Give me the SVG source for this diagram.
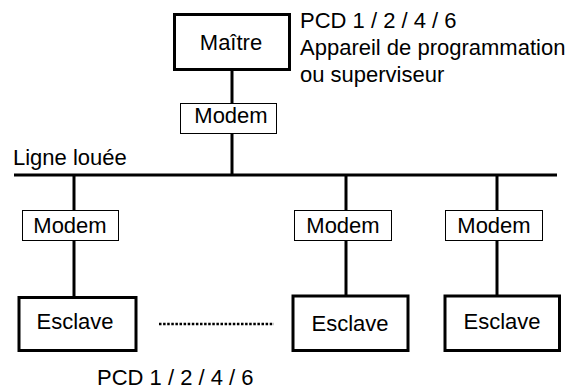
<svg xmlns="http://www.w3.org/2000/svg" width="573" height="390" viewBox="0 0 573 390">
<style>
text{font-family:"Liberation Sans",Arial,sans-serif;font-size:22px;fill:#000}
.c{text-anchor:middle}
.thick{fill:#fff;stroke:#000;stroke-width:3}
.thin{fill:#fff;stroke:#000;stroke-width:1}
.ln{stroke:#000;stroke-width:3;fill:none}
</style>
<rect width="573" height="390" fill="#fff"/>
<g id="connectors">
<line class="ln" x1="232" y1="70" x2="232" y2="103"/>
<line class="ln" x1="232" y1="133" x2="232" y2="175"/>
<line class="ln" x1="14" y1="175" x2="557" y2="175"/>
<line class="ln" x1="74" y1="175" x2="74" y2="210"/>
<line class="ln" x1="74" y1="241" x2="74" y2="297"/>
<line class="ln" x1="346" y1="175" x2="346" y2="210"/>
<line class="ln" x1="346" y1="241" x2="346" y2="296"/>
<line class="ln" x1="497" y1="175" x2="497" y2="210"/>
<line class="ln" x1="497" y1="241" x2="497" y2="296"/>
<line x1="159" y1="324" x2="274" y2="324" stroke="#000" stroke-width="2.5" stroke-dasharray="2.5 1.6"/>
</g>
<g id="maitre">
<rect class="thick" x="174.5" y="14.5" width="115" height="55"/>
<text class="c" x="231" y="50">Maître</text>
</g>
<g id="maitre-label">
<text x="300" y="28">PCD 1 / 2 / 4 / 6</text>
<text x="300" y="55">Appareil de programmation</text>
<text x="300" y="82">ou superviseur</text>
</g>
<g id="modem0">
<rect class="thin" x="180.5" y="103.5" width="96" height="30"/>
<text class="c" x="231" y="123">Modem</text>
</g>
<g id="ligne-label">
<text x="13" y="165">Ligne louée</text>
</g>
<g id="modem1">
<rect class="thin" x="22.5" y="210.5" width="96" height="30"/>
<text class="c" x="70" y="233">Modem</text>
</g>
<g id="modem2">
<rect class="thin" x="294.5" y="210.5" width="97" height="30"/>
<text class="c" x="343" y="233">Modem</text>
</g>
<g id="modem3">
<rect class="thin" x="445.5" y="210.5" width="97" height="30"/>
<text class="c" x="494" y="233">Modem</text>
</g>
<g id="esclave1">
<rect class="thick" x="19" y="297.5" width="117" height="53"/>
<text class="c" x="75" y="329">Esclave</text>
</g>
<g id="esclave2">
<rect class="thick" x="293" y="296" width="115" height="54.5"/>
<text class="c" x="350" y="331">Esclave</text>
</g>
<g id="esclave3">
<rect class="thick" x="445" y="296" width="114.5" height="54.5"/>
<text class="c" x="502" y="329">Esclave</text>
</g>
<g id="esclave-label">
<text x="97" y="385">PCD 1 / 2 / 4 / 6</text>
</g>
</svg>
